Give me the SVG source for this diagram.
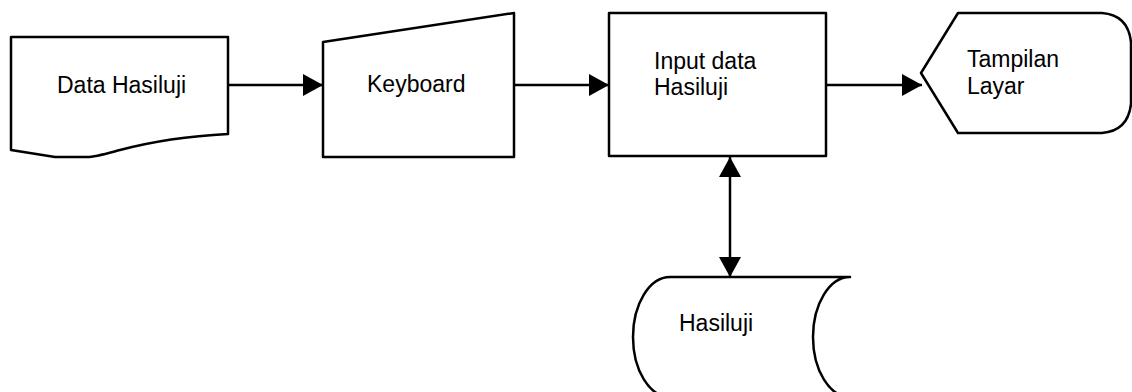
<svg xmlns="http://www.w3.org/2000/svg" width="1132" height="392" viewBox="0 0 1132 392">
<defs>
<style>
.shape{fill:#fff;stroke:#000;stroke-width:2.5;stroke-linejoin:round}
.conn{fill:none;stroke:#000;stroke-width:2.5}
.lbl{font-family:"Liberation Sans",Arial,sans-serif;font-size:23px;fill:#000}
</style>
<marker id="ah" viewBox="0 0 20 22" refX="20" refY="11" markerWidth="20" markerHeight="22" markerUnits="userSpaceOnUse" orient="auto-start-reverse">
<path d="M0,0 L20,11 L0,22 Z" fill="#000"/>
</marker>
</defs>
<rect width="1132" height="392" fill="#fff"/>
<g id="node-data-hasiluji">
<path class="shape" d="M11,37 L228,37 L228,134 C190,136 150,142 120,150 C105,154 95,157 87,157 L55,157 L11,150 Z"/>
<text class="lbl" x="57" y="93">Data Hasiluji</text>
</g>
<g id="node-keyboard">
<path class="shape" d="M323,42 L514,13 L514,157 L323,157 Z"/>
<text class="lbl" x="367" y="92">Keyboard</text>
</g>
<g id="node-input">
<rect class="shape" x="609" y="13" width="217" height="143"/>
<text class="lbl" x="654" y="69">Input data</text>
<text class="lbl" x="654" y="95">Hasiluji</text>
</g>
<g id="node-tampilan">
<path class="shape" d="M921,73 L958,13 L1102,13 Q1128,15 1131,42 L1131,104 Q1128,131 1102,133 L958,133 Z"/>
<text class="lbl" x="967" y="67">Tampilan</text>
<text class="lbl" x="967" y="94">Layar</text>
</g>
<g id="node-hasiluji">
<path class="shape" d="M670,277 L850,277 A37,60 0 0 0 850,397 L670,397 A37,60 0 0 1 670,277 Z"/>
<text class="lbl" x="679" y="331">Hasiluji</text>
</g>
<g id="connectors">
<line class="conn" x1="228" y1="85" x2="323" y2="85" marker-end="url(#ah)"/>
<line class="conn" x1="514" y1="85" x2="609" y2="85" marker-end="url(#ah)"/>
<line class="conn" x1="826" y1="85" x2="922" y2="85" marker-end="url(#ah)"/>
<line class="conn" x1="730" y1="157" x2="730" y2="277" marker-start="url(#ah)" marker-end="url(#ah)"/>
</g>
</svg>
